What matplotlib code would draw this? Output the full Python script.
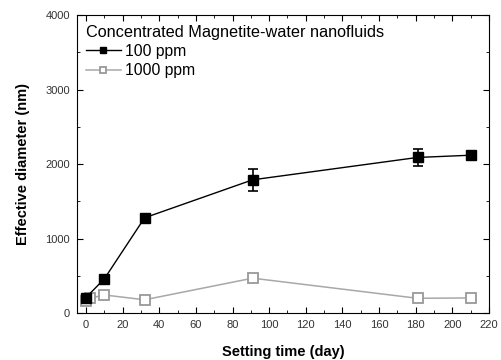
import numpy as np
import matplotlib.pyplot as plt
from matplotlib.ticker import MultipleLocator

plt.rcParams['font.family'] = ['Liberation Sans', 'DejaVu Sans']

# data
days_100 = [0, 10, 32, 91, 181, 210]
diam_100 = [210, 460, 1280, 1790, 2090, 2120]
err_100 = [30, 40, 40, 145, 110, 30]

days_1000 = [0, 2, 10, 32, 91, 181, 210]
diam_1000 = [160, 200, 245, 180, 470, 200, 205]
err_1000 = [40, 40, 40, 30, 50, 30, 30]

fig = plt.figure(figsize=(5.02, 3.6), dpi=100)
ax = fig.add_axes([0.153, 0.13, 0.821, 0.828])

ax.errorbar(days_1000, diam_1000, yerr=err_1000, color='#a8a8a8', fmt='none',
            capsize=3, elinewidth=1, zorder=2)
l2, = ax.plot(days_1000, diam_1000, color='#a8a8a8', marker='s', markersize=6.5,
              mfc='white', mec='#999999', mew=1.3, lw=1.1, label='1000 ppm', zorder=2)
ax.errorbar(days_100, diam_100, yerr=err_100, color='black', fmt='none',
            capsize=3.5, elinewidth=1.2, capthick=1.2, zorder=3)
l1, = ax.plot(days_100, diam_100, color='black', marker='s', markersize=7.5,
              lw=1, label='100 ppm', zorder=3)

ax.set_xlim(-5, 220)
ax.set_ylim(0, 4000)
ax.xaxis.set_major_locator(MultipleLocator(20))
ax.xaxis.set_minor_locator(MultipleLocator(10))
ax.yaxis.set_major_locator(MultipleLocator(1000))
ax.yaxis.set_minor_locator(MultipleLocator(500))
ax.tick_params(which='both', direction='in', top=True, right=True,
               labelsize=8, labelcolor='#333333', pad=5)
ax.tick_params(which='major', length=4)
ax.tick_params(which='minor', length=2.5)

ax.set_xlabel('Setting time (day)', fontsize=10.5, fontweight='bold', labelpad=11)
ax.set_ylabel('Effective diameter (nm)', fontsize=10.5, fontweight='bold', labelpad=11)

leg = ax.legend(handles=[l1, l2], title='Concentrated Magnetite-water nanofluids',
                loc='upper left', frameon=False, fontsize=11.3, title_fontsize=11.7,
                handlelength=2.2, handletextpad=0.25, labelspacing=0.28,
                borderaxespad=0.2, markerscale=0.6)
leg._legend_box.align = 'left'

fig.savefig('out.png', dpi=100)
